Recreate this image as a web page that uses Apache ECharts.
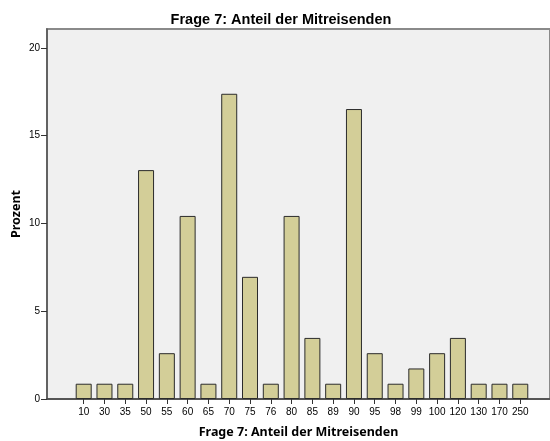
<!DOCTYPE html>
<html>
<head>
<meta charset="utf-8">
<style>
  html, body { margin: 0; padding: 0; background: #fff; }
  #chart { width: 550px; height: 441px; }
</style>
<script src="https://cdn.jsdelivr.net/npm/echarts@6/dist/echarts.min.js"></script>
</head>
<body>
<div id="chart"></div>
<script>
  // Frage 7: Anteil der Mitreisenden (SPSS bar chart, percent)
  var categories = ["10", "30", "35", "50", "55", "60", "65", "70", "75", "76", "80",
                    "85", "89", "90", "95", "98", "99", "100", "120", "130", "170", "250"];
  var percent = [0.87, 0.87, 0.87, 13.04, 2.61, 10.43, 0.87, 17.39, 6.96, 0.87, 10.43,
                 3.48, 0.87, 16.52, 2.61, 0.87, 1.74, 2.61, 3.48, 0.87, 0.87, 0.87];
  var yTicks = [0, 5, 10, 15, 20];

  var font = "'Liberation Sans', Arial, sans-serif";
  var nameFont = "'Noto Sans', sans-serif";
  var chart = echarts.init(document.getElementById("chart"), null, { renderer: "canvas" });

  var indexTicks = categories.map(function (c, i) { return i; });
  var points = percent.map(function (v, i) { return [i, v]; });

  chart.setOption({
    animation: false,
    textStyle: { fontFamily: font, color: "#000" },
    title: {
      text: "Frage 7: Anteil der Mitreisenden",
      left: 276, top: 7, textAlign: "center",
      textStyle: { fontFamily: font, fontSize: 14.5, fontWeight: "bold", color: "#000" }
    },
    grid: {
      left: 47, top: 29, right: 0, bottom: 42,
      containLabel: false, outerBoundsMode: "none",
      show: true, backgroundColor: "#f0f0f0",
      borderColor: "#8a8a8a", borderWidth: 2
    },
    xAxis: {
      type: "value",
      min: -1.765, max: 22.43,
      name: "Frage 7: Anteil der Mitreisenden",
      nameLocation: "middle", nameGap: 27,
      nameTextStyle: { fontFamily: nameFont, fontSize: 12.5, fontWeight: "bold", color: "#000" },
      axisLine: { show: true, onZero: false, lineStyle: { color: "#444", width: 1.5 } },
      axisTick: { show: true, inside: false, length: 5, customValues: indexTicks, lineStyle: { color: "#333" } },
      axisLabel: {
        customValues: indexTicks, color: "#000", fontFamily: font, fontSize: 10, margin: 8,
        formatter: function (v) { return categories[Math.round(v)]; }
      },
      splitLine: { show: false }
    },
    yAxis: {
      type: "value",
      min: 0, max: 21.08, interval: 5,
      name: "Prozent",
      nameLocation: "middle", nameGap: 24, nameRotate: 90, nameMoveOverlap: false,
      nameTextStyle: { fontFamily: nameFont, fontSize: 12.5, fontWeight: "bold", color: "#000" },
      axisLine: { show: true, onZero: false, lineStyle: { color: "#555", width: 1.5 } },
      axisTick: { show: true, inside: false, length: 6, customValues: yTicks, lineStyle: { color: "#333" } },
      axisLabel: { customValues: yTicks, color: "#000", fontFamily: font, fontSize: 10, margin: 7 },
      splitLine: { show: false }
    },
    series: [{
      type: "bar",
      data: points,
      barWidth: 16,
      itemStyle: { color: "#d3ce98", borderColor: "#2b2b2b", borderWidth: 1 }
    }]
  });
</script>
</body>
</html>
